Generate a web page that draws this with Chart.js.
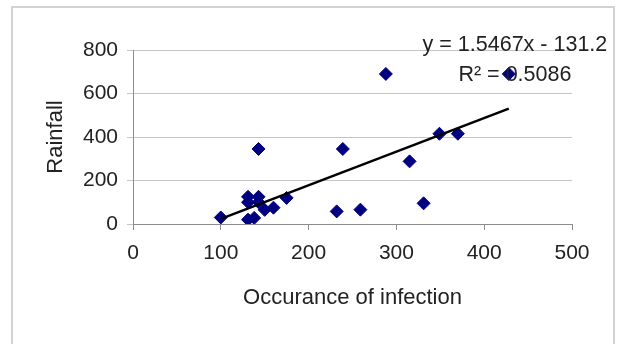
<!DOCTYPE html>
<html>
<head>
<meta charset="utf-8">
<script src="https://cdn.jsdelivr.net/npm/chart.js@4/dist/chart.umd.min.js"></script>
<style>
  html, body { margin: 0; padding: 0; background: #ffffff; }
  #wrap { position: relative; width: 617px; height: 344px; }
</style>
</head>
<body>
<div id="wrap"><canvas id="chart" width="617" height="344"></canvas></div>
<script>
// Occurrence of infection (x) against rainfall (y)
const infection = [100, 131, 131, 143, 143, 131, 138, 150, 160, 175, 143, 232, 239, 259, 288, 315, 331, 349, 370, 428];
const rainfall  = [ 30, 125, 100, 125, 100,  20,  28,  65,  75, 120, 345,  58, 345,  66, 690, 288,  95, 415, 415, 690];

// Linear trendline as stated in its label
const trendSlope = 1.5467;
const trendIntercept = -131.2;
const trendLabel = ['y = 1.5467x - 131.2', 'R² = 0.5086'];

const xTickValues = [0, 100, 200, 300, 400, 500];
const yTickValues = [0, 200, 400, 600, 800];

const axisTitleX = 'Occurance of infection';
const axisTitleY = 'Rainfall';

const FONT = "'Liberation Sans', Arial, sans-serif";
const TEXT = '#222222';

const points = infection.map((x, i) => ({ x, y: rainfall[i] }));
const xMin = Math.min(...infection), xMax = Math.max(...infection);
const trend = [xMin, xMax].map(x => ({ x, y: trendSlope * x + trendIntercept }));

// light frame round the chart
const framePlugin = {
  id: 'frame',
  beforeDraw(chart) {
    const ctx = chart.ctx;
    ctx.save();
    ctx.strokeStyle = '#d2d2d2';
    ctx.lineWidth = 2;
    ctx.strokeRect(12, 7, 602, 350);
    ctx.restore();
  }
};

// trendline equation and R² text
const trendLabelPlugin = {
  id: 'trendLabel',
  afterDatasetsDraw(chart) {
    const ctx = chart.ctx;
    const xs = chart.scales.x;
    const ys = chart.scales.y;
    const cx = xs.getPixelForValue(435);
    const top = ys.getPixelForValue(800);
    ctx.save();
    ctx.fillStyle = TEXT;
    ctx.font = '21.5px ' + FONT;
    ctx.textAlign = 'center';
    ctx.textBaseline = 'alphabetic';
    ctx.fillText(trendLabel[0], cx, top + 1);
    ctx.fillText(trendLabel[1], cx, top + 31);
    ctx.restore();
  }
};

new Chart(document.getElementById('chart'), {
  type: 'scatter',
  data: {
    datasets: [
      {
        label: 'Rainfall',
        data: points,
        pointStyle: 'rectRot',
        pointRadius: 6.5,
        pointBackgroundColor: '#000080',
        pointBorderColor: '#000080',
        pointBorderWidth: 1,
        order: 2
      },
      {
        label: 'Linear trend',
        type: 'line',
        data: trend,
        borderColor: '#000000',
        borderWidth: 2.5,
        pointRadius: 0,
        fill: false,
        order: 1
      }
    ]
  },
  options: {
    responsive: false,
    animation: false,
    events: [],
    layout: { padding: { top: 50, right: 45, left: 0, bottom: 0 } },
    plugins: { legend: { display: false }, tooltip: { enabled: false } },
    scales: {
      x: {
        type: 'linear',
        min: 0, max: 500,
        afterFit(scale) { scale.height = 120; },
        afterBuildTicks(scale) { scale.ticks = xTickValues.map(v => ({ value: v })); },
        ticks: { color: TEXT, font: { family: FONT, size: 21 }, padding: 11, maxRotation: 0 },
        grid: { drawOnChartArea: false, drawTicks: true, tickLength: 6, color: '#8c8c8c', lineWidth: 1 },
        border: { display: true, color: '#8c8c8c', width: 1 },
        title: { display: true, text: axisTitleX, color: TEXT, font: { family: FONT, size: 22 }, padding: { top: 0, bottom: 33 } }
      },
      y: {
        type: 'linear',
        min: 0, max: 800,
        afterFit(scale) { scale.width = 133; },
        afterBuildTicks(scale) { scale.ticks = yTickValues.map(v => ({ value: v })); },
        ticks: { color: TEXT, font: { family: FONT, size: 21 }, padding: 9 },
        grid: { color: '#c4c4c4', lineWidth: 1, tickLength: 6, drawTicks: true },
        border: { display: true, color: '#8c8c8c', width: 1 },
        title: { display: true, text: axisTitleY, color: TEXT, font: { family: FONT, size: 22 }, padding: { top: 43, bottom: 0 } }
      }
    }
  },
  plugins: [framePlugin, trendLabelPlugin]
});
</script>
</body>
</html>
